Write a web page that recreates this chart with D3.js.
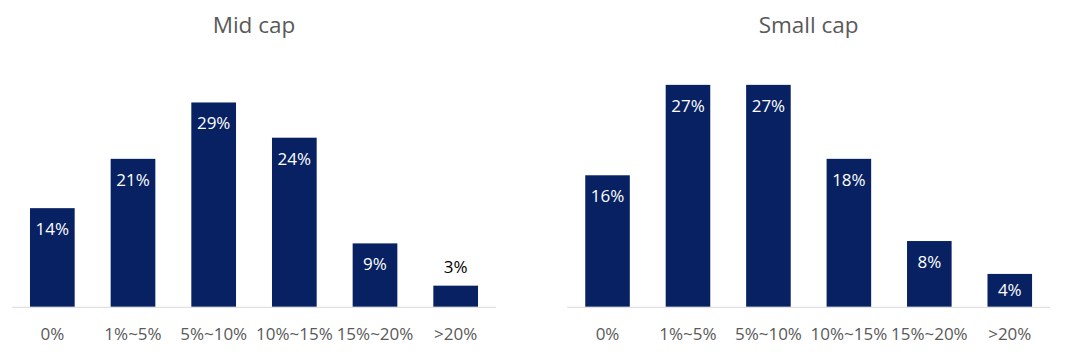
<!DOCTYPE html>
<html><head><meta charset="utf-8">
<script src="https://cdn.jsdelivr.net/npm/d3@7"></script>
<style>
html,body{margin:0;padding:0;background:#fff;}
svg{display:block;}
</style></head>
<body>
<svg id="chart" width="1084" height="360"></svg>
<script>
const categories = ["0%", "1%~5%", "5%~10%", "10%~15%", "15%~20%", ">20%"];
const midCapValues = [0.14, 0.21, 0.29, 0.24, 0.09, 0.03];
const smallCapValues = [0.16, 0.27, 0.27, 0.18, 0.08, 0.04];
const panelTitles = ["Mid cap", "Small cap"];
const panelMax = [0.35, 0.30];

const svg = d3.select("#chart");
const barColor = "#072162";
const textGrey = "#595959";
const font = "'Open Sans', sans-serif";

const panels = [
  {title: panelTitles[0], values: midCapValues, max: panelMax[0], x0: 12, x1: 496},
  {title: panelTitles[1], values: smallCapValues, max: panelMax[1], x0: 567.3, x1: 1050}
];
const yBottom = 306.8, yTop = 60.2;
const fmt = d3.format(".0%");

panels.forEach(p => {
  const g = svg.append("g");
  const x = d3.scaleBand().domain(categories).range([p.x0, p.x1]).paddingInner(0.446).paddingOuter(0.223);
  const y = d3.scaleLinear().domain([0, p.max]).range([yBottom, yTop]);

  g.append("text")
    .attr("x", (p.x0 + p.x1) / 2).attr("y", 32.5)
    .attr("text-anchor", "middle")
    .attr("font-family", font).attr("font-size", 22.5)
    .attr("fill", textGrey)
    .text(p.title);

  g.selectAll("rect.bar").data(p.values).join("rect")
    .attr("class", "bar")
    .attr("x", (d, i) => x(categories[i]))
    .attr("width", x.bandwidth())
    .attr("y", d => y(d))
    .attr("height", d => y(0) - y(d))
    .attr("fill", barColor);

  const axis = d3.axisBottom(x).tickSize(0).tickPadding(0);
  const ag = g.append("g").attr("transform", `translate(0,${yBottom})`).call(axis);
  ag.select(".domain").attr("stroke", "#d9d9d9").attr("stroke-width", 1)
    .attr("d", `M${p.x0},0.5H${p.x1}`);
  ag.selectAll(".tick text")
    .attr("font-family", font).attr("font-size", 17)
    .attr("fill", textGrey)
    .attr("dy", null)
    .attr("y", 32.8);

  g.selectAll("text.val").data(p.values).join("text")
    .attr("class", "val")
    .attr("x", (d, i) => x(categories[i]) + x.bandwidth() / 2)
    .attr("y", d => {
      const h = y(0) - y(d);
      if (h >= 50) return y(d) + 26.8;
      if (h >= 28) return (y(d) + y(0)) / 2 + 5.8;
      return y(d) - 13;
    })
    .attr("text-anchor", "middle")
    .attr("font-family", font).attr("font-size", 17)
    .attr("fill", d => (y(0) - y(d)) >= 28 ? "#ffffff" : "#000000")
    .text(d => fmt(d));
});
</script>
</body></html>
